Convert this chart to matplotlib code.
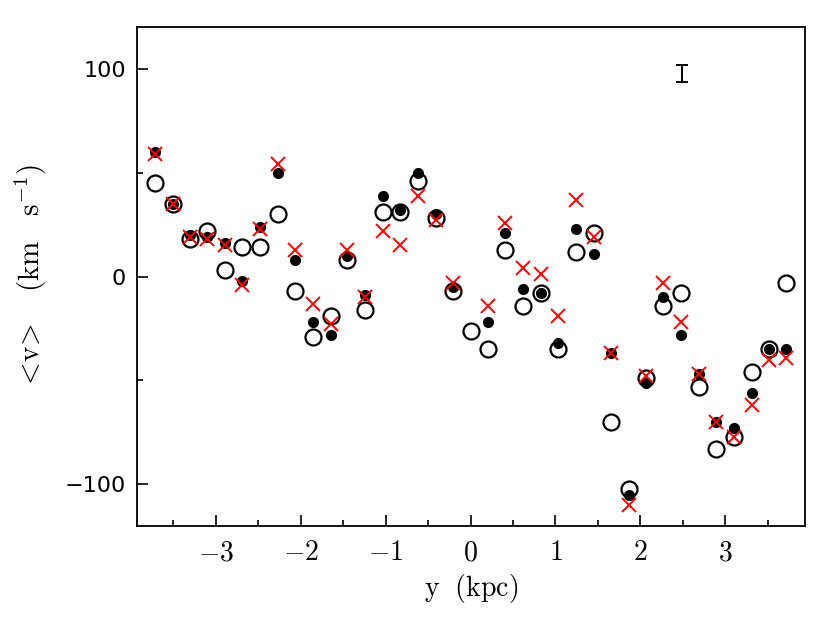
import matplotlib
matplotlib.use('Agg')
import matplotlib.pyplot as plt

plt.rcParams['mathtext.fontset'] = 'cm'

# bin centres (kpc)
y_kpc = [-3.72, -3.51, -3.31, -3.10, -2.89, -2.69, -2.48, -2.27, -2.07, -1.86,
         -1.65, -1.45, -1.24, -1.03, -0.83, -0.62, -0.41, -0.21, 0.00, 0.21,
         0.41, 0.62, 0.83, 1.03, 1.24, 1.45, 1.65, 1.86, 2.07, 2.27,
         2.48, 2.69, 2.89, 3.10, 3.31, 3.51, 3.72]

# open circles
v_open = [45, 35, 18, 22, 3, 14, 14, 30, -7, -29,
          -19, 8, -16, 31, 31, 46, 28, -7, -26, -35,
          13, -14, -8, -35, 12, 21, -70, -102, -49, -14,
          -8, -53, -83, -77, -46, -35, -3]

# filled dots (no value at y=0)
v_fill = [60, 35, 20, 19, 16, -2, 24, 50, 8, -22,
          -28, 10, -9, 39, 32, 50, 30, -5, None, -22,
          21, -6, -8, -32, 23, 11, -37, -105, -51, -10,
          -28, -47, -70, -73, -56, -35, -35]

# red crosses
v_cross = [59, 35, 19, 18, 15, -4, 23, 54, 13, -13,
           -23, 13, -10, 22, 15, 39, 27, -3, None, -14,
           26, 4, 1, -19, 37, 19, -37, -110, -48, -3,
           -22, -47, -70, -77, -62, -40, -39]

# typical error bar
err_x, err_y, err_h = 2.49, 97.7, 4.2

fig = plt.figure(figsize=(8.3, 6.17), dpi=100)
ax = fig.add_axes([0.165, 0.1475, 0.805, 0.8085])

xf = [x for x, v in zip(y_kpc, v_fill) if v is not None]
vf = [v for v in v_fill if v is not None]
xc = [x for x, v in zip(y_kpc, v_cross) if v is not None]
vc = [v for v in v_cross if v is not None]

ax.plot(y_kpc, v_open, 'o', ms=11.5, mfc='none', mec='black', mew=1.6, ls='none')
ax.plot(xf, vf, 'o', ms=7, color='black', ls='none')
ax.plot(xc, vc, 'x', ms=9.5, mew=1.4, color='red', ls='none')

ax.errorbar([err_x], [err_y], yerr=[err_h], fmt='none', ecolor='black',
            elinewidth=1.4, capsize=4, capthick=1.4)

ax.set_xlim(-3.93, 3.94)
ax.set_ylim(-120, 120)

ax.set_xticks([-3, -2, -1, 0, 1, 2, 3])
ax.set_xticklabels([r'$-3$', r'$-2$', r'$-1$', r'$0$', r'$1$', r'$2$', r'$3$'])
ax.set_xticks([-3.5, -2.5, -1.5, -0.5, 0.5, 1.5, 2.5, 3.5], minor=True)
ax.set_yticks([-100, 0, 100])
ax.set_yticks([-50, 50], minor=True)

ax.tick_params(which='both', direction='in', top=False, right=False, labelsize=16)
ax.tick_params(which='major', length=8, width=1.2)
ax.tick_params(which='minor', length=4.5, width=1.2)
ax.tick_params(axis='x', pad=9, labelsize=20)
ax.tick_params(axis='y', pad=8)
for s in ax.spines.values():
    s.set_linewidth(1.3)

ax.set_xlabel(r'$\mathrm{y\ \ (kpc)}$', fontsize=20, labelpad=4)
ax.set_ylabel(r'$<\!\mathrm{v}\!>\ \ \ \mathrm{(km\ \ \ s^{-1})}$', fontsize=21, labelpad=11)

fig.savefig('out.png', dpi=100)
